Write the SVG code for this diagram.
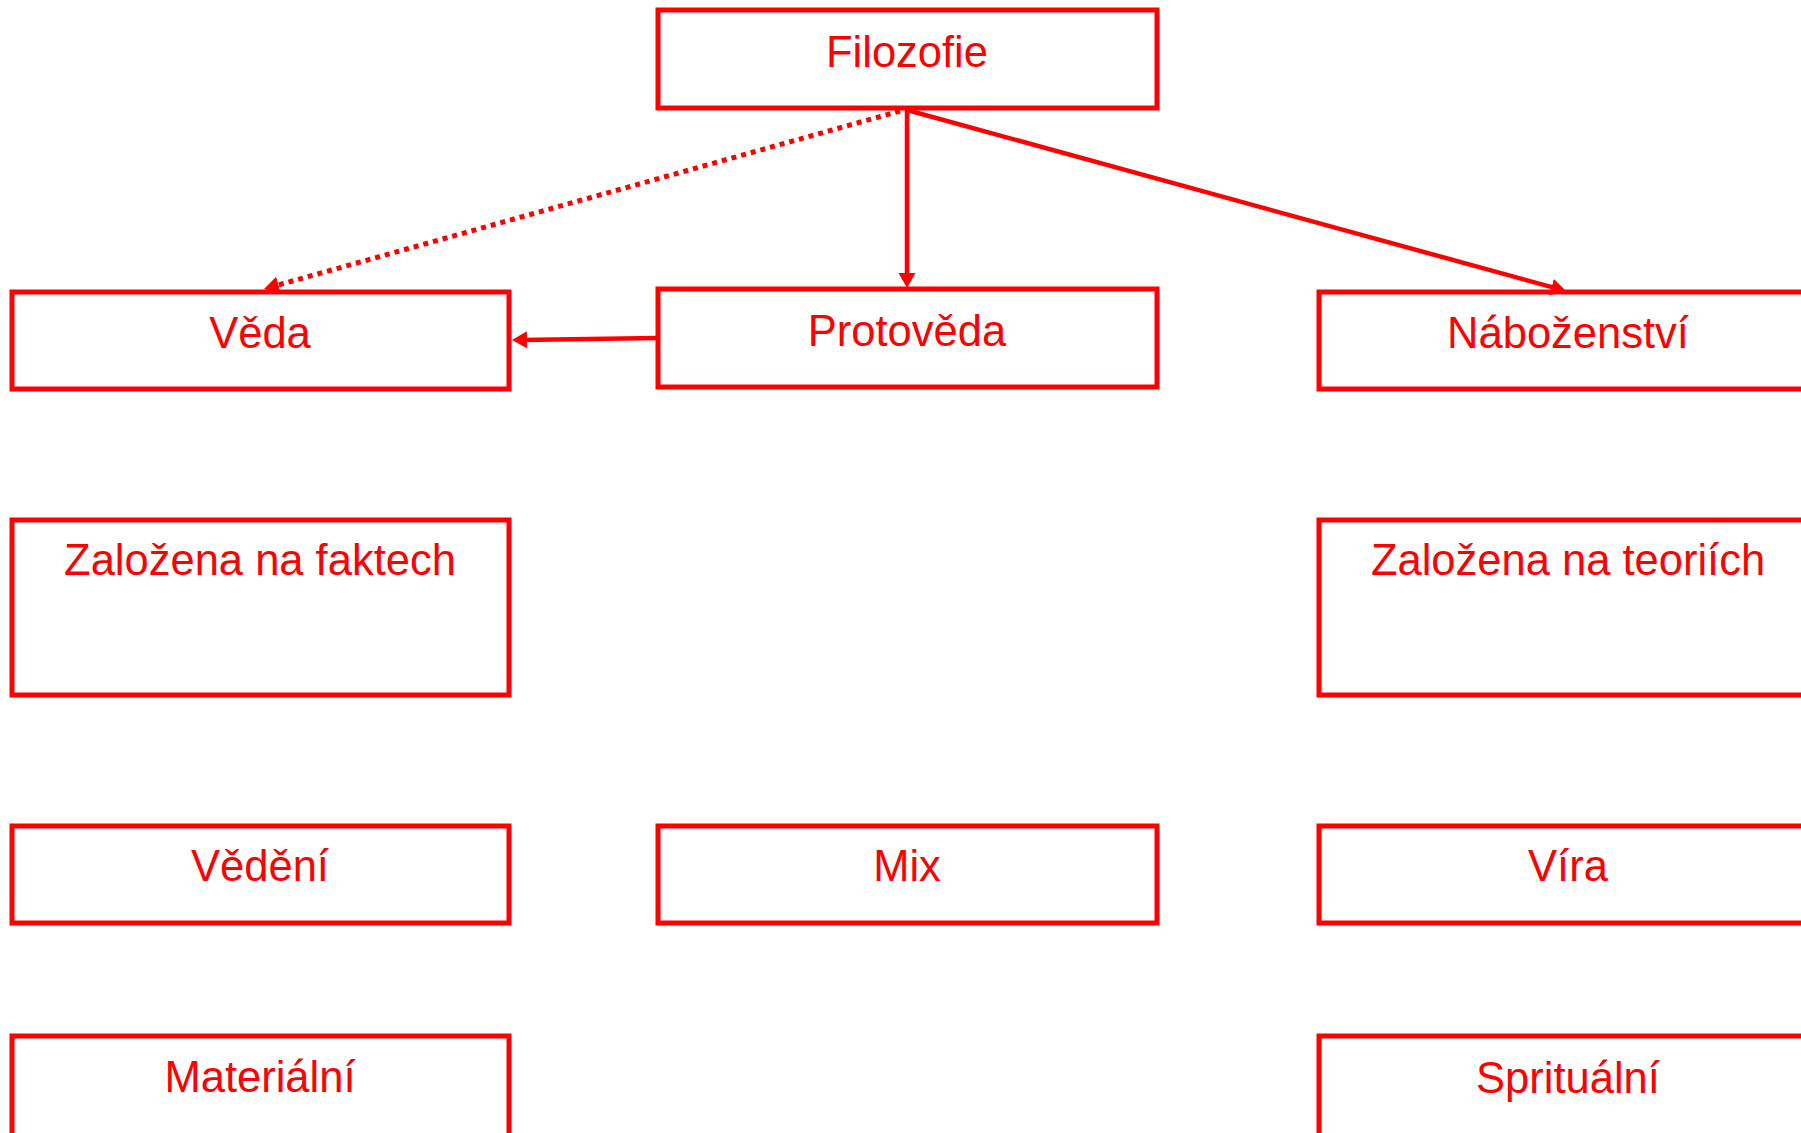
<svg xmlns="http://www.w3.org/2000/svg" width="1801" height="1133" viewBox="0 0 1801 1133">
<style>
.box{fill:#fff;stroke:#ff0000;stroke-width:5}
.lbl{font-family:"Liberation Sans",Arial,sans-serif;font-size:43.5px;fill:#ff0000;text-anchor:middle}
.con{fill:none;stroke:#ff0000;stroke-width:4.5}
.dot{stroke-width:5;stroke-dasharray:5 5}
</style>
<defs>
<marker id="ah" markerUnits="userSpaceOnUse" markerWidth="16" markerHeight="18" viewBox="0 0 16 18" refX="7" refY="9" orient="auto">
<path d="M0,0.5 L15,9 L0,17.5 Z" fill="#ff0000"/>
</marker>
</defs>
<rect width="1801" height="1133" fill="#fff"/>
<g id="n-filozofie"><rect class="box" x="658" y="10" width="499" height="98"/><text class="lbl" x="907" y="67">Filozofie</text></g>
<g id="n-veda"><rect class="box" x="12" y="292" width="497" height="97"/><text class="lbl" x="260" y="348">Věda</text></g>
<g id="n-protoveda"><rect class="box" x="658" y="289" width="499" height="98"/><text class="lbl" x="907" y="346">Protověda</text></g>
<g id="n-nabozenstvi"><rect class="box" x="1319" y="292" width="520" height="97"/><text class="lbl" x="1568" y="348">Náboženství</text></g>
<g id="n-fakta"><rect class="box" x="12" y="520" width="497" height="175"/><text class="lbl" x="260" y="575">Založena na faktech</text></g>
<g id="n-teorie"><rect class="box" x="1319" y="520" width="520" height="175"/><text class="lbl" x="1568" y="575">Založena na teoriích</text></g>
<g id="n-vedeni"><rect class="box" x="12" y="826" width="497" height="97"/><text class="lbl" x="260" y="881">Vědění</text></g>
<g id="n-mix"><rect class="box" x="658" y="826" width="499" height="97"/><text class="lbl" x="907" y="881">Mix</text></g>
<g id="n-vira"><rect class="box" x="1319" y="826" width="520" height="97"/><text class="lbl" x="1568" y="881">Víra</text></g>
<g id="n-materialni"><rect class="box" x="12" y="1036" width="497" height="120"/><text class="lbl" x="260" y="1092">Materiální</text></g>
<g id="n-spiritualni"><rect class="box" x="1319" y="1036" width="520" height="120"/><text class="lbl" x="1568" y="1093">Sprituální</text></g>
<g id="connectors">
<line class="con dot" x1="900" y1="111" x2="271.7" y2="286.8" marker-end="url(#ah)"/>
<line class="con" x1="907" y1="110" x2="907" y2="280" marker-end="url(#ah)"/>
<line class="con" x1="907" y1="110" x2="1558.3" y2="288.9" marker-end="url(#ah)"/>
<line class="con" x1="658" y1="338" x2="520" y2="339.9" marker-end="url(#ah)"/>
</g>
</svg>
